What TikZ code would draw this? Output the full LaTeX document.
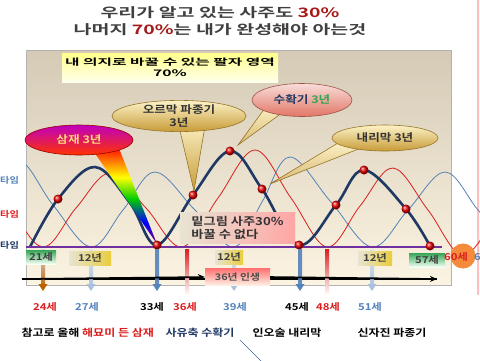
\documentclass[tikz,border=0pt]{standalone}
\usepackage{fontspec}
\setmainfont{Noto Sans CJK KR Bold}[FakeStretch=1.2]
\newfontfamily\krwide{Noto Sans CJK KR Bold}[FakeStretch=1.5]
\newfontfamily\krwider{Noto Sans CJK KR Bold}[FakeStretch=1.75]
\usetikzlibrary{shapes.geometric, calc, positioning, arrows.meta}

\definecolor{SajuNavy}{RGB}{31,56,100}
\definecolor{SajuRed}{RGB}{218,30,30}
\definecolor{SajuDarkRed}{RGB}{165,25,25}
\definecolor{SajuBlue}{RGB}{84,130,186}
\definecolor{SajuPurple}{RGB}{112,48,160}
\definecolor{SajuGray}{RGB}{64,64,64}
\definecolor{SajuGold}{RGB}{200,155,55}
\definecolor{SajuCream}{RGB}{252,243,200}
\definecolor{SajuPink}{RGB}{226,118,102}
\definecolor{SajuGreen}{RGB}{52,165,85}
\definecolor{SajuOrange}{RGB}{245,138,60}
\definecolor{SajuTan}{RGB}{232,228,210}
\definecolor{SajuYellow}{RGB}{232,205,60}
\definecolor{SajuPale}{RGB}{255,214,120}
\definecolor{PanelTop}{RGB}{212,202,182}
\definecolor{PanelBottom}{RGB}{252,244,226}

\pgfdeclareverticalshading{rainbowtail}{100bp}{color(0bp)=(violet); color(25bp)=(violet); color(36bp)=(blue); color(48bp)=(green!80!black); color(59bp)=(yellow); color(67bp)=(orange); color(75bp)=(red); color(100bp)=(red)}

\begin{document}
\begin{tikzpicture}[x=1pt, y=-1pt,
    dot/.style={circle, inner sep=0pt, minimum size=9pt, ball color=red!90!black},
    tag/.style={rectangle, inner sep=1.5pt, minimum height=14pt, font=\fontsize{9.5}{10}\selectfont, text=black!75},
    greentag/.style={tag, top color=SajuGreen, bottom color=green!4},
    yeartag/.style={tag, left color=SajuTan, right color=SajuYellow},
    bubble/.style={ellipse, inner sep=0pt, line width=0.6pt, align=center, font=\fontsize{10.5}{12.5}\selectfont},
    goldbubble/.style={bubble, draw=SajuGold!75!black, top color=SajuCream, bottom color=SajuGold},
    agelabel/.style={font=\fontsize{9.5}{10}\selectfont},
    timeline/.style={line width=1.6pt, -{Stealth[length=7pt, width=6pt]}}]
    \useasboundingbox (0,0) rectangle (480,360);

    % Title
    \node[font=\krwide\fontsize{13}{14}\selectfont, text=SajuGray] (title1) at (220,13)
        {우리가 알고 있는 사주도 \textcolor{SajuDarkRed}{30\%}};
    \node[font=\krwide\fontsize{13}{14}\selectfont, text=SajuGray] (title2) at (220,30)
        {나머지 \textcolor{SajuDarkRed}{70\%}는 내가 완성해야 아는것};

    % Side line and chart panel
    \draw[red!25, line width=1.5pt] (478,0) -- (478,295);
    \shadedraw[top color=PanelTop, bottom color=PanelBottom, draw=black!30] (26,50) rectangle (451,285);
    \node[rectangle, minimum width=216pt, minimum height=29pt, inner sep=0pt, top color=yellow!45, bottom color=yellow!8,
          align=center, font=\krwider\fontsize{9}{11.5}\selectfont] (will) at (170,67.5)
        {내 의지로 바꿀 수 있는 팔자 영역\\70\%};

    % Three cycles
    \begin{scope}
        \clip (26,0) rectangle (480,360);
        \draw[SajuBlue, line width=0.8pt] plot[smooth, tension=0.6] coordinates {(-15,200) (18,160) (53,205) (91,247) (123,210) (155,172) (195,210) (234,247) (262,202) (290,157) (331,202) (372,247) (408,210) (445,172) (478,210) (510,247)};
        \draw[SajuRed, line width=0.8pt] plot[smooth, tension=0.6] coordinates {(-30,160) (8,205) (43,247) (76,208) (110,173) (146,208) (182,247) (218,198) (255,150) (291,198) (327,247) (360,206) (393,168) (428,210) (463,256) (495,215)};
        \draw[SajuNavy, line width=2.6pt] plot[smooth, tension=0.6] coordinates {(30,247) (58,199) (95,167) (130,203) (157,245) (193,195) (230,151) (262,189) (299,245) (336,205) (364,170) (406,209) (430,246)};
    \end{scope}
    \draw[SajuPurple, line width=1.5pt] (26,247) -- (442,247);

    % Labels on the left
    \node[anchor=west, inner sep=0pt, font=\fontsize{8.5}{9}\selectfont, text=SajuBlue] (tblue) at (0,180) {타임};
    \node[anchor=west, inner sep=0pt, font=\fontsize{8.5}{9}\selectfont, text=SajuRed] (tred) at (0,214) {타임};
    \node[anchor=west, inner sep=0pt, font=\fontsize{8.5}{9}\selectfont, text=SajuNavy] (tnavy) at (0,245) {타임};

    % Callout tails
    \coordinate (tipsam) at (157,244);
    \coordinate (tiporm) at (194,191);
    \coordinate (tipsuh) at (238,145);
    \coordinate (tipnae) at (270,184);
    \shade[shading=rainbowtail] (90,146) -- (118,146) -- (tipsam) -- cycle;
    \shade[top color=SajuCream, bottom color=SajuGold] (178,122) -- (206,120) -- (tiporm) -- cycle;
    \draw[SajuGold!75!black, line width=0.6pt] (178,122) -- (tiporm) -- (206,120);
    \shade[top color=SajuCream, bottom color=SajuGold!70] (268,104) -- (286,110) -- (tipsuh) -- cycle;
    \draw[SajuGold!75!black, line width=0.6pt] (268,104) -- (tipsuh) -- (286,110);
    \shade[top color=SajuCream, bottom color=SajuGold!70] (343,140) -- (366,146) -- (tipnae) -- cycle;
    \draw[SajuGold!75!black, line width=0.6pt] (343,140) -- (tipnae) -- (366,146);

    % Callouts
    \node[bubble, minimum width=108pt, minimum height=30pt, top color=magenta!75!black, bottom color=red!60!orange,
          draw=red!60!black, text=SajuPale] (sam) at (79,140) {삼재 3년};
    \node[goldbubble, minimum width=134pt, minimum height=27pt, text=black!80] (orm) at (179,116) {오르막 파종기\\3년};
    \node[bubble, minimum width=100pt, minimum height=33pt, top color=SajuPink!25, bottom color=SajuPink,
          draw=SajuPink!70!black] (suh) at (302,100) {\textcolor{SajuNavy}{수확기} \textcolor{SajuGreen}{3년}};
    \node[goldbubble, minimum width=106pt, minimum height=26pt, text=black!80] (nae) at (385,138) {내리막 3년};

    % Fixed part
    \node[rectangle, minimum width=115pt, minimum height=30pt, inner sep=4pt, left color=SajuTan, right color=red!35,
          align=left, font=\fontsize{11}{13}\selectfont, text=black!80] (base) at (237.5,228)
        {밑그림 사주30\%\\바꿀 수 없다};

    % Turning points
    \foreach \x/\y [count=\i] in {58/199, 157/245, 193/195, 230/151, 262/189, 299/245, 336/205, 364/170, 406/209, 430/246}
        \node[dot] (d\i) at (\x,\y) {};

    % Life line
    \coordinate (tlstart) at (22,279);
    \coordinate (tlend) at (437,279);
    \draw[line width=1.6pt] (tlstart) -- (tlend);

    % Year markers
    \foreach \x/\ct/\cb in {43/SajuBlue!30/orange!75!black, 91/SajuBlue!20/SajuBlue!50, 157/SajuBlue/SajuBlue,
                            234/SajuBlue!20/SajuBlue!50, 300/SajuBlue/SajuBlue, 372/SajuBlue!20/SajuBlue!50} {
        \shade[top color=\ct, bottom color=\cb, opacity=0.9] (\x-2,249) rectangle (\x+2,284);
        \fill[\cb] (\x-4.5,284) -- (\x+4.5,284) -- (\x,291) -- cycle;
    }
    \foreach \x in {187, 327}
        \shade[top color=SajuRed, bottom color=white] (\x-2,249) rectangle (\x+2,295);

    % Tags under the baseline
    \node[greentag, minimum width=30pt] (a21) at (41,257) {21세};
    \node[yeartag, minimum width=42pt] (y1) at (90,258) {12년};
    \node[yeartag, minimum width=28pt] (y2) at (229,257) {12년};
    \node[yeartag, minimum width=34pt] (y3) at (375,258) {12년};
    \node[greentag, minimum width=36pt] (a57) at (427,260) {57세};
    \node[circle, fill=SajuOrange, minimum size=25pt, inner sep=0pt] (sixty) at (463,256) {};
    \node[agelabel, text=SajuRed] (a60) at (456,257) {60세};
    \node[agelabel, anchor=west, inner sep=0pt, text=SajuBlue] (a63) at (474,257) {6};

    \node[rectangle, minimum width=65pt, minimum height=17pt, inner sep=1pt, top color=red!55, bottom color=orange!10,
          font=\fontsize{9}{10}\selectfont, text=black!70] (life) at (237.5,277) {36년 인생};
    \draw[timeline] (tlstart) -- (life.west);
    \draw[timeline] (life.east) -- (tlend);

    % Ages
    \foreach \x/\a/\c in {45/24/SajuRed, 87/27/SajuBlue, 152/33/black, 185/36/SajuRed,
                          235/39/SajuBlue, 297/45/black, 328/48/SajuRed, 370/51/SajuBlue}
        \node[agelabel, text=\c] (age\a) at (\x,307) {{\a}세};

    % Note at the bottom
    \node[anchor=west, font=\fontsize{10}{11}\selectfont] (note1) at (18,333) {참고로 올해 \textcolor{SajuRed}{해묘미 든 삼재}};
    \node[anchor=west, font=\fontsize{10}{11}\selectfont, text=SajuNavy] (note2) at (162,333) {사유축 수확기};
    \node[anchor=west, font=\fontsize{10}{11}\selectfont] (note3) at (249,333) {인오술 내리막};
    \node[anchor=west, font=\fontsize{10}{11}\selectfont] (note4) at (354,333) {신자진 파종기};
    \coordinate (lnA) at (240,340);
    \coordinate (lnB) at (262,362);
    \draw[SajuBlue!80!black, line width=0.5pt] (lnA) -- (lnB);
\end{tikzpicture}
\end{document}
